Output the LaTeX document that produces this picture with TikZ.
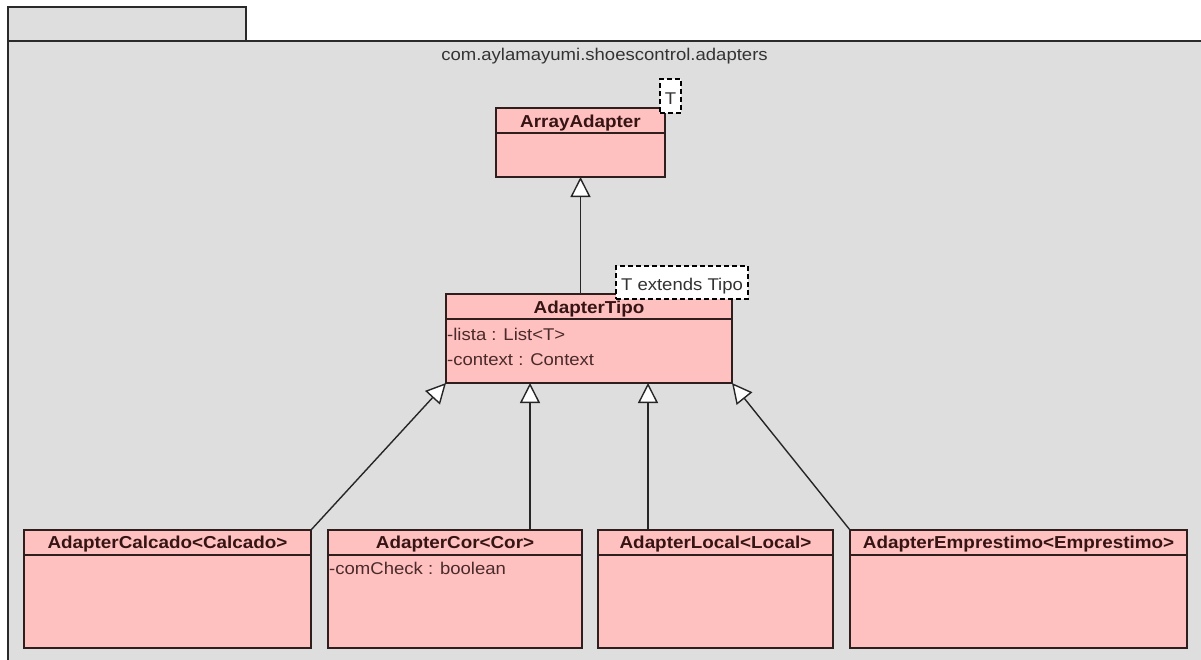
\documentclass[tikz,border=0pt]{standalone}
\usepackage{fontspec}
\setmainfont[FakeStretch=1.09]{Liberation Sans}
\usetikzlibrary{arrows.meta,calc}
\definecolor{pkgfill}{HTML}{DEDEDE}
\definecolor{pkgline}{HTML}{2A2A2A}
\definecolor{clsfill}{HTML}{FFC0C0}
\definecolor{clsline}{HTML}{2E1E1E}
\definecolor{clstext}{HTML}{361414}
\definecolor{attrtext}{HTML}{4A2A2A}
\definecolor{pkgtext}{HTML}{333333}

\begin{document}
\begin{tikzpicture}[x=1pt,y=-1pt,
  classbox/.style={draw=clsline, fill=clsfill, line width=1.3pt, inner sep=0pt,
    outer sep=0pt, anchor=north west},
  sepline/.style={draw=clsline, line width=1.3pt},
  ctitle/.style={font=\fontsize{17.3}{20}\selectfont\bfseries, text=clstext, inner sep=0pt, anchor=base},
  cattr/.style={font=\fontsize{17}{20}\selectfont, text=attrtext, inner sep=0pt, anchor=base west},
  tparam/.style={draw=black, fill=white, dashed, dash pattern=on 5pt off 3pt,
    line width=1.2pt, inner sep=0pt, outer sep=0pt, anchor=north west},
  ptext/.style={font=\fontsize{17}{20}\selectfont, text=pkgtext, inner sep=0pt, anchor=base},
  gen/.style={draw=black!85, line width=1.4pt,
    -{Triangle[length=20pt, width=20pt, fill=white]}},
  pkg/.style={draw=pkgline, fill=pkgfill, line width=1.5pt}
]
\useasboundingbox (0,0) rectangle (1201,659);
\clip (0,0) rectangle (1201,659);
\fill[white] (0,0) rectangle (1201,659);

% package: tab and body
\draw[pkg] (8,7) rectangle (246,41);
\draw[pkg] (8,41) rectangle (1212,672);
\node[ptext] (pkgname) at (604.5,60) {com.aylamayumi.shoescontrol.adapters};

% ArrayAdapter<T>
\node[classbox, minimum width=169pt, minimum height=69pt] (arr) at (496,108) {};
\draw[sepline] ($(arr.north west)+(0,25)$) -- ($(arr.north east)+(0,25)$);
\node[ctitle] (arrt) at ($(arr.north)+(0,19.5)$) {ArrayAdapter};
\node[tparam, minimum width=21pt, minimum height=34pt] (arrp) at (660,79) {};
\node[ptext] (arrpt) at ($(arrp.south)+(0,-9)$) {T};

% AdapterTipo<T extends Tipo>
\node[classbox, minimum width=286pt, minimum height=89pt] (tipo) at (446,294) {};
\draw[sepline] ($(tipo.north west)+(0,25)$) -- ($(tipo.north east)+(0,25)$);
\node[ctitle] (tipot) at ($(tipo.north)+(0,19.5)$) {AdapterTipo};
\node[cattr] (tipoa1) at ($(tipo.north west)+(1,46)$) {-lista : List<T>};
\node[cattr] (tipoa2) at ($(tipo.north west)+(1,71)$) {-context : Context};
\node[tparam, minimum width=132pt, minimum height=33pt] (tipop) at (616,266) {};
\node[ptext] (tipopt) at ($(tipop.south)+(0,-9)$) {T extends Tipo};

% subclasses
\node[classbox, minimum width=287pt, minimum height=118pt] (calc) at (24,530) {};
\draw[sepline] ($(calc.north west)+(0,25)$) -- ($(calc.north east)+(0,25)$);
\node[ctitle] (calct) at ($(calc.north)+(0,18.5)$) {AdapterCalcado<Calcado>};

\node[classbox, minimum width=254pt, minimum height=118pt] (cor) at (328,530) {};
\draw[sepline] ($(cor.north west)+(0,25)$) -- ($(cor.north east)+(0,25)$);
\node[ctitle] (cort) at ($(cor.north)+(0,18.5)$) {AdapterCor<Cor>};
\node[cattr] (cora1) at ($(cor.north west)+(1,44)$) {-comCheck : boolean};

\node[classbox, minimum width=235pt, minimum height=118pt] (loc) at (598,530) {};
\draw[sepline] ($(loc.north west)+(0,25)$) -- ($(loc.north east)+(0,25)$);
\node[ctitle] (loct) at ($(loc.north)+(0,18.5)$) {AdapterLocal<Local>};

\node[classbox, minimum width=337pt, minimum height=118pt] (empr) at (850,530) {};
\draw[sepline] ($(empr.north west)+(0,25)$) -- ($(empr.north east)+(0,25)$);
\node[ctitle] (emprt) at ($(empr.north)+(0,18.5)$) {AdapterEmprestimo<Emprestimo>};

% generalizations
\coordinate (gCor) at ($(tipo.south west)+(84,0)$);
\coordinate (gLoc) at ($(tipo.south west)+(202,0)$);
\draw[gen] (tipo.north -| arr.south) -- (arr.south);
\draw[gen] (calc.north east) -- (tipo.south west);
\draw[gen] (cor.north -| gCor) -- (gCor);
\draw[gen] (loc.north -| gLoc) -- (gLoc);
\draw[gen] (empr.north west) -- (tipo.south east);
\end{tikzpicture}
\end{document}
